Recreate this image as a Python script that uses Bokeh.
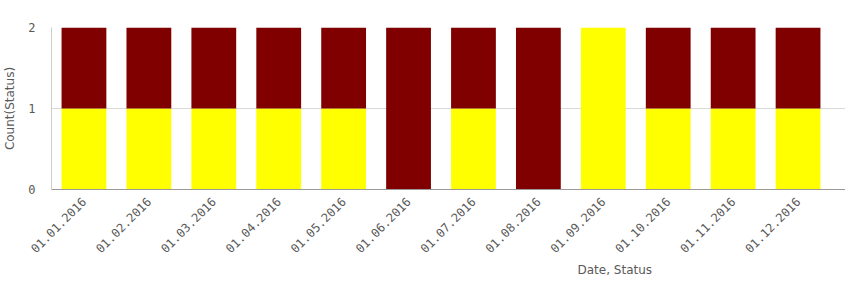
import math
from bokeh.plotting import figure
from bokeh.models import ColumnDataSource, Range1d, FixedTicker, Title
from bokeh.embed import file_html
from bokeh.resources import INLINE

dates = ["01.01.2016", "01.02.2016", "01.03.2016", "01.04.2016", "01.05.2016", "01.06.2016",
         "01.07.2016", "01.08.2016", "01.09.2016", "01.10.2016", "01.11.2016", "01.12.2016"]
status_yellow = [1, 1, 1, 1, 1, 0, 1, 0, 2, 1, 1, 1]
status_red = [1, 1, 1, 1, 1, 2, 1, 2, 0, 1, 1, 1]
y_ticks = [0, 1, 2]

xpos = [i + 0.5 for i in range(len(dates))]
source = ColumnDataSource(data=dict(x=xpos, date=dates, yellow=status_yellow, red=status_red))

p = figure(width=845, height=297, x_range=Range1d(0, 795 / 65),
           y_range=Range1d(0, 2), output_backend="svg", toolbar_location=None,
           min_border_left=50, min_border_right=0, min_border_top=27, min_border_bottom=108)
p.outline_line_color = None

p.vbar_stack(["yellow", "red"], x="x", width=0.69, source=source,
             color=["#ffff00", "#800000"], line_color=None)

grey = "#595959"
p.yaxis.ticker = FixedTicker(ticks=y_ticks)
p.yaxis.major_tick_line_color = None
p.yaxis.minor_tick_line_color = None
p.yaxis.axis_line_color = "#cccccc"
p.yaxis.major_label_text_font = "DejaVu Sans Mono"
p.yaxis.major_label_text_font_size = "12px"
p.yaxis.major_label_text_color = grey
p.yaxis.major_label_standoff = 10
p.yaxis.axis_label = "Count(Status)"
p.yaxis.axis_label_text_font = "DejaVu Sans"
p.yaxis.axis_label_text_font_style = "normal"
p.yaxis.axis_label_text_font_size = "12px"
p.yaxis.axis_label_text_color = grey
p.yaxis.axis_label_standoff = 8

p.xaxis.ticker = FixedTicker(ticks=xpos)
p.xaxis.major_label_overrides = {x: d for x, d in zip(xpos, dates)}
p.xaxis.major_tick_line_color = None
p.xaxis.minor_tick_line_color = None
p.xaxis.axis_line_color = "#999999"
p.xaxis.major_label_orientation = math.pi / 4
p.xaxis.major_label_text_font = "DejaVu Sans Mono"
p.xaxis.major_label_text_font_size = "12px"
p.xaxis.major_label_text_color = grey
p.xaxis.major_label_standoff = 4

p.xgrid.grid_line_color = None
p.ygrid.grid_line_color = "#d9d9d9"
p.ygrid.ticker = FixedTicker(ticks=y_ticks)

t = Title(text="Date, Status", align="left", offset=526, text_font="DejaVu Sans",
          text_font_style="normal", text_font_size="12px", text_color=grey, standoff=3)
p.add_layout(t, "below")

open("out.html", "w").write(file_html(p, INLINE))
